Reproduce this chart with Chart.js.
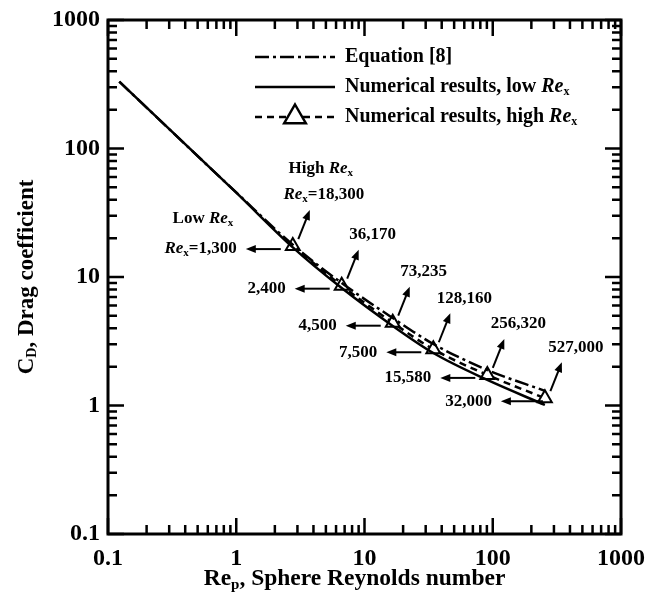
<!DOCTYPE html>
<html>
<head>
<meta charset="utf-8">
<script src="https://cdn.jsdelivr.net/npm/chart.js@4.4.1/dist/chart.umd.min.js"></script>
<style>
  html, body { margin: 0; padding: 0; background: #fff; }
  #wrap { width: 657px; height: 597px; }
</style>
</head>
<body>
<div id="wrap"><canvas id="chart" width="657" height="597"></canvas></div>
<script>
// values
const eqX = [0.1225, 1, 2.76, 6.64, 16.6, 34.4, 90.7, 255];
const eqY = [331, 45.5, 17.8, 8.98, 4.8, 3.01, 1.89, 1.30];

const lowX = [0.1225, 1, 2.76, 6.64, 16.6, 34.4, 90.7, 255];
const lowY = [331, 45.3, 17.0, 8.2, 4.16, 2.56, 1.58, 1.01];

const highX = [2.76, 6.64, 16.6, 34.4, 90.7, 255];
const highY = [17.4, 8.56, 4.41, 2.74, 1.73, 1.14];

const lowRexLabels = ['1,300', '2,400', '4,500', '7,500', '15,580', '32,000'];
const highRexLabels = ['18,300', '36,170', '73,235', '128,160', '256,320', '527,000'];

const xTicks = [0.1, 1, 10, 100, 1000];
const yTicks = [0.1, 1, 10, 100, 1000];
const xTickLabels = ['0.1', '1', '10', '100', '1000'];
const yTickLabels = ['0.1', '1', '10', '100', '1000'];

const legendLabels = ['Equation [8]', 'Numerical results, low ', 'Numerical results, high '];

const SERIF = '"Liberation Serif", "Times New Roman", serif';
const EQ_DASH = [14, 4, 3, 4];
const HIGH_DASH = [7, 5];

const toXY = (xs, ys) => xs.map((x, i) => ({ x: x, y: ys[i] }));

// draw a row of text pieces: [text, kind] kind = 'b' | 'bi' | 'sub'
function richText(ctx, parts, x, y, align, size) {
  const fontFor = k => k === 'bi' ? `italic bold ${size}px ${SERIF}`
    : k === 'sub' ? `bold ${Math.round(size * 0.62)}px ${SERIF}` : `bold ${size}px ${SERIF}`;
  let w = 0;
  parts.forEach(p => { ctx.font = fontFor(p[1]); w += ctx.measureText(p[0]).width; });
  let cx = align === 'right' ? x - w : align === 'center' ? x - w / 2 : x;
  ctx.textAlign = 'left';
  ctx.textBaseline = 'middle';
  parts.forEach(p => {
    ctx.font = fontFor(p[1]);
    ctx.fillText(p[0], cx, p[1] === 'sub' ? y + size * 0.25 : y);
    cx += ctx.measureText(p[0]).width;
  });
}

function arrow(ctx, x1, y1, x2, y2) {
  const a = Math.atan2(y2 - y1, x2 - x1);
  const hl = 10, hw = 4;
  ctx.beginPath();
  ctx.moveTo(x1, y1);
  ctx.lineTo(x2 - Math.cos(a) * hl * 0.8, y2 - Math.sin(a) * hl * 0.8);
  ctx.stroke();
  ctx.beginPath();
  ctx.moveTo(x2, y2);
  ctx.lineTo(x2 - Math.cos(a) * hl - Math.sin(a) * hw, y2 - Math.sin(a) * hl + Math.cos(a) * hw);
  ctx.lineTo(x2 - Math.cos(a) * hl + Math.sin(a) * hw, y2 - Math.sin(a) * hl - Math.cos(a) * hw);
  ctx.closePath();
  ctx.fill();
}

const frame = {
  id: 'frame',
  afterDatasetsDraw(chart) {
    const { ctx, chartArea: a, scales: { x, y } } = chart;
    ctx.save();
    ctx.strokeStyle = '#000';
    ctx.fillStyle = '#000';

    // box
    ctx.lineWidth = 3;
    ctx.strokeRect(a.left, a.top, a.right - a.left, a.bottom - a.top);

    // inward ticks on all four sides
    ctx.lineWidth = 2.5;
    const minorOf = ticks => {
      const out = [];
      for (let i = 0; i < ticks.length - 1; i++) for (let m = 2; m <= 9; m++) out.push(ticks[i] * m);
      return out;
    };
    const tickX = (v, len) => {
      const px = x.getPixelForValue(v);
      ctx.beginPath();
      ctx.moveTo(px, a.bottom); ctx.lineTo(px, a.bottom - len);
      ctx.moveTo(px, a.top); ctx.lineTo(px, a.top + len);
      ctx.stroke();
    };
    const tickY = (v, len) => {
      const py = y.getPixelForValue(v);
      ctx.beginPath();
      ctx.moveTo(a.left, py); ctx.lineTo(a.left + len, py);
      ctx.moveTo(a.right, py); ctx.lineTo(a.right - len, py);
      ctx.stroke();
    };
    xTicks.forEach(v => tickX(v, 16));
    minorOf(xTicks).forEach(v => tickX(v, 9));
    yTicks.forEach(v => tickY(v, 16));
    minorOf(yTicks).forEach(v => tickY(v, 9));

    // annotations
    ctx.lineWidth = 2;
    const n = highX.length;
    highX.forEach((hx, i) => {
      const px = x.getPixelForValue(hx), py = y.getPixelForValue(highY[i]);
      // low Re_x: left arrow
      const sx = px + (i === n - 1 ? -2 : -12);
      const len = i === n - 1 ? 42 : 35;
      arrow(ctx, sx, py + 3, sx - len, py + 3);
      const parts = i === 0 ? [['Re', 'bi'], ['x', 'sub'], ['=' + lowRexLabels[i], 'b']] : [[lowRexLabels[i], 'b']];
      richText(ctx, parts, sx - len - 9, py + 3, 'right', 17);
      if (i === 0) {
        ctx.font = `bold 17px ${SERIF}`;
        const w = ctx.measureText('Re=' + lowRexLabels[0]).width;
        richText(ctx, [['Low ', 'b'], ['Re', 'bi'], ['x', 'sub']], sx - len - 9 - w / 2, py - 27, 'center', 17);
      }
      // high Re_x: up-right arrow
      arrow(ctx, px + 5.5, py - 7, px + 17, py - 36);
      const hp = i === 0 ? [['Re', 'bi'], ['x', 'sub'], ['=' + highRexLabels[i], 'b']] : [[highRexLabels[i], 'b']];
      richText(ctx, hp, px + 31, py - 51, 'center', 17);
      if (i === 0) richText(ctx, [['High ', 'b'], ['Re', 'bi'], ['x', 'sub']], px + 28, py - 77, 'center', 17);
    });

    // legend
    const lx1 = 255, lx2 = 335, tx = 345, rows = [57, 87, 117];
    ctx.lineWidth = 2.5;
    ctx.setLineDash(EQ_DASH);
    ctx.beginPath(); ctx.moveTo(lx1, rows[0]); ctx.lineTo(lx2, rows[0]); ctx.stroke();
    ctx.setLineDash([]);
    ctx.beginPath(); ctx.moveTo(lx1, rows[1]); ctx.lineTo(lx2, rows[1]); ctx.stroke();
    ctx.setLineDash(HIGH_DASH);
    ctx.beginPath(); ctx.moveTo(lx1, rows[2]); ctx.lineTo(lx2, rows[2]); ctx.stroke();
    ctx.setLineDash([]);
    const tcx = (lx1 + lx2) / 2, r = 12.5;
    ctx.fillStyle = '#fff';
    ctx.beginPath();
    ctx.moveTo(tcx, rows[2] - r);
    ctx.lineTo(tcx + r * 0.866, rows[2] + r * 0.5);
    ctx.lineTo(tcx - r * 0.866, rows[2] + r * 0.5);
    ctx.closePath();
    ctx.fill(); ctx.stroke();
    ctx.fillStyle = '#000';
    richText(ctx, [[legendLabels[0], 'b']], tx, rows[0], 'left', 20);
    richText(ctx, [[legendLabels[1], 'b'], ['Re', 'bi'], ['x', 'sub']], tx, rows[1], 'left', 20);
    richText(ctx, [[legendLabels[2], 'b'], ['Re', 'bi'], ['x', 'sub']], tx, rows[2], 'left', 20);

    // axis titles
    richText(ctx, [['Re', 'b'], ['p', 'sub'], [', Sphere Reynolds number', 'b']], (a.left + a.right) / 2 - 10, 579, 'center', 23.5);
    ctx.save();
    ctx.translate(27, (a.top + a.bottom) / 2);
    ctx.rotate(-Math.PI / 2);
    richText(ctx, [['C', 'b'], ['D', 'sub'], [', Drag coefficient', 'b']], 0, 0, 'center', 23);
    ctx.restore();

    ctx.restore();
  }
};

const ctx = document.getElementById('chart').getContext('2d');
const chart = new Chart(ctx, {
  type: 'scatter',
  data: {
    datasets: [
      {
        label: 'Equation [8]',
        data: toXY(eqX, eqY),
        showLine: true,
        borderColor: '#000',
        borderWidth: 2.5,
        borderDash: EQ_DASH,
        pointRadius: 0,
        cubicInterpolationMode: 'monotone'
      },
      {
        label: 'Numerical results, low Rex',
        data: toXY(lowX, lowY),
        showLine: true,
        borderColor: '#000',
        borderWidth: 2.5,
        pointRadius: 0,
        cubicInterpolationMode: 'monotone'
      },
      {
        label: 'Numerical results, high Rex',
        data: toXY(highX, highY),
        showLine: true,
        borderColor: '#000',
        borderWidth: 2.5,
        borderDash: HIGH_DASH,
        pointStyle: 'triangle',
        pointRadius: 8,
        pointBorderWidth: 2,
        pointBorderColor: '#000',
        pointBackgroundColor: '#fff',
        cubicInterpolationMode: 'monotone'
      }
    ]
  },
  options: {
    responsive: false,
    animation: false,
    layout: { padding: { top: 20, right: 36, left: 0, bottom: 0 } },
    plugins: { legend: { display: false }, tooltip: { enabled: false } },
    scales: {
      x: {
        type: 'logarithmic',
        min: 0.1,
        max: 1000,
        grid: { display: false },
        border: { display: false },
        afterBuildTicks: s => { s.ticks = xTicks.map(v => ({ value: v })); },
        afterFit: s => { s.height = 63; },
        ticks: {
          color: '#000',
          padding: 2,
          maxRotation: 0,
          font: { family: SERIF, size: 24, weight: 'bold' },
          callback: (v, i) => xTickLabels[i]
        }
      },
      y: {
        type: 'logarithmic',
        min: 0.1,
        max: 1000,
        grid: { display: false },
        border: { display: false },
        afterBuildTicks: s => { s.ticks = yTicks.map(v => ({ value: v })); },
        afterFit: s => { s.width = 108; },
        ticks: {
          color: '#000',
          padding: 0,
          font: { family: SERIF, size: 24, weight: 'bold' },
          callback: (v, i) => yTickLabels[i]
        }
      }
    }
  },
  plugins: [frame]
});
</script>
</body>
</html>
